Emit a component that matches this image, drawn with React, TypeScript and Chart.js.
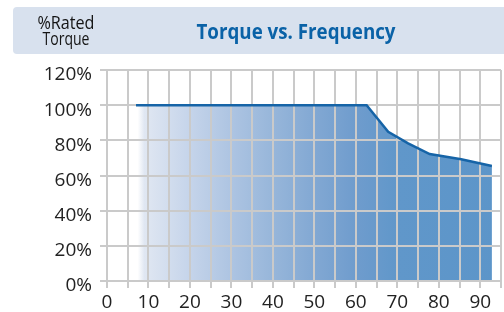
import React, { useEffect, useRef } from "react";
import { Chart, registerables } from "chart.js";

Chart.register(...registerables);

// ---- data ----
const frequency = [7, 62.6, 67.8, 72.6, 77.8, 85.4, 92.8];
const torquePct = [100, 100, 84.9, 78.3, 72.2, 69.2, 65.4];
const xRange = [0, 95];
const xStep = 5;
const xLabelStep = 10;
const yRange = [0, 120];
const yStep = 20;
const chartTitle = "Torque vs. Frequency";
const yAxisTitle = ["%Rated", "Torque"];

// ---- styles ----
const gradStopsX = [7.4, 9.0, 20, 30, 40, 50, 60, 70, 95];
const gradStopsColor = [
  "#ffffff",
  "#e0e7f2",
  "#c5d4ea",
  "#adc4e2",
  "#97b6da",
  "#82a8d3",
  "#6f9ccd",
  "#6097ca",
  "#5c95c9",
];
const FONT = '"Open Sans", "DejaVu Sans", sans-serif';

function drawFit(
  ctx: CanvasRenderingContext2D,
  text: string,
  cx: number,
  baseline: number,
  width: number,
  font: string,
  color: string
) {
  ctx.save();
  ctx.font = font;
  ctx.fillStyle = color;
  ctx.textAlign = "center";
  ctx.textBaseline = "alphabetic";
  const w = ctx.measureText(text).width;
  ctx.translate(cx, baseline);
  ctx.scale(width / w, 1);
  ctx.fillText(text, 0, 0);
  ctx.restore();
}

const headerPlugin = {
  id: "headerBox",
  beforeDraw(chart: any) {
    const ctx: CanvasRenderingContext2D = chart.ctx;
    ctx.save();
    ctx.fillStyle = "#d8e1ee";
    ctx.beginPath();
    (ctx as any).roundRect(13, 7, 520, 47, 4);
    ctx.fill();
    ctx.restore();
    drawFit(ctx, yAxisTitle[0], 66, 29, 57, `18px ${FONT}`, "#141414");
    drawFit(ctx, yAxisTitle[1], 66, 44.5, 47, `18px ${FONT}`, "#141414");
    drawFit(ctx, chartTitle, 296, 38.5, 199, `bold 22px ${FONT}`, "#0a62a7");
  },
};

export default function App() {
  const ref = useRef<HTMLCanvasElement | null>(null);

  useEffect(() => {
    document.body.style.margin = "0";
    const canvas = ref.current!;
    const chart = new Chart(canvas, {
      type: "line",
      data: {
        datasets: [
          {
            data: frequency.map((f, i) => ({ x: f, y: torquePct[i] })),
            borderColor: "#1664a7",
            borderWidth: 2.5,
            pointRadius: 0,
            tension: 0,
            fill: "origin",
            backgroundColor: (c: any) => {
              const ch = c.chart;
              const xs = ch.scales?.x;
              if (!ch.chartArea || !xs) return "#5c95c9";
              const x0 = xs.getPixelForValue(xRange[0]);
              const x1 = xs.getPixelForValue(xRange[1]);
              const g = ch.ctx.createLinearGradient(x0, 0, x1, 0);
              gradStopsX.forEach((v, i) => {
                g.addColorStop((v - xRange[0]) / (xRange[1] - xRange[0]), gradStopsColor[i]);
              });
              return g;
            },
          },
        ],
      },
      options: {
        responsive: false,
        animation: false,
        devicePixelRatio: 1,
        layout: { padding: { top: 70, right: 1, left: 0, bottom: 0 } },
        plugins: {
          legend: { display: false },
          tooltip: { enabled: false },
          filler: { drawTime: "beforeDraw" } as any,
        },
        scales: {
          x: {
            type: "linear",
            min: xRange[0],
            max: xRange[1],
            ticks: {
              stepSize: xStep,
              autoSkip: false,
              maxRotation: 0,
              padding: 3,
              color: "#222",
              font: { family: FONT, size: 19 },
              callback: (v: any) => (Number(v) % xLabelStep === 0 ? String(v) : ""),
            },
            grid: { color: "#cacaca", lineWidth: 2, tickLength: 7 },
            border: { color: "#cacaca", width: 2 },
            afterFit: (s: any) => {
              s.height = 31;
            },
          },
          y: {
            type: "linear",
            min: yRange[0],
            max: yRange[1],
            ticks: {
              stepSize: yStep,
              padding: 8,
              labelOffset: 5,
              color: "#222",
              font: { family: FONT, size: 19 },
              callback: (v: any) => `${v}%`,
            },
            grid: { color: "#cacaca", lineWidth: 2, tickLength: 7 },
            border: { color: "#cacaca", width: 2 },
            afterFit: (s: any) => {
              s.width = 107;
            },
          },
        },
      },
      plugins: [headerPlugin],
    });
    return () => chart.destroy();
  }, []);

  return (
    <div style={{ width: 504, height: 312 }}>
      <canvas ref={ref} width={504} height={312} style={{ display: "block" }} />
    </div>
  );
}
